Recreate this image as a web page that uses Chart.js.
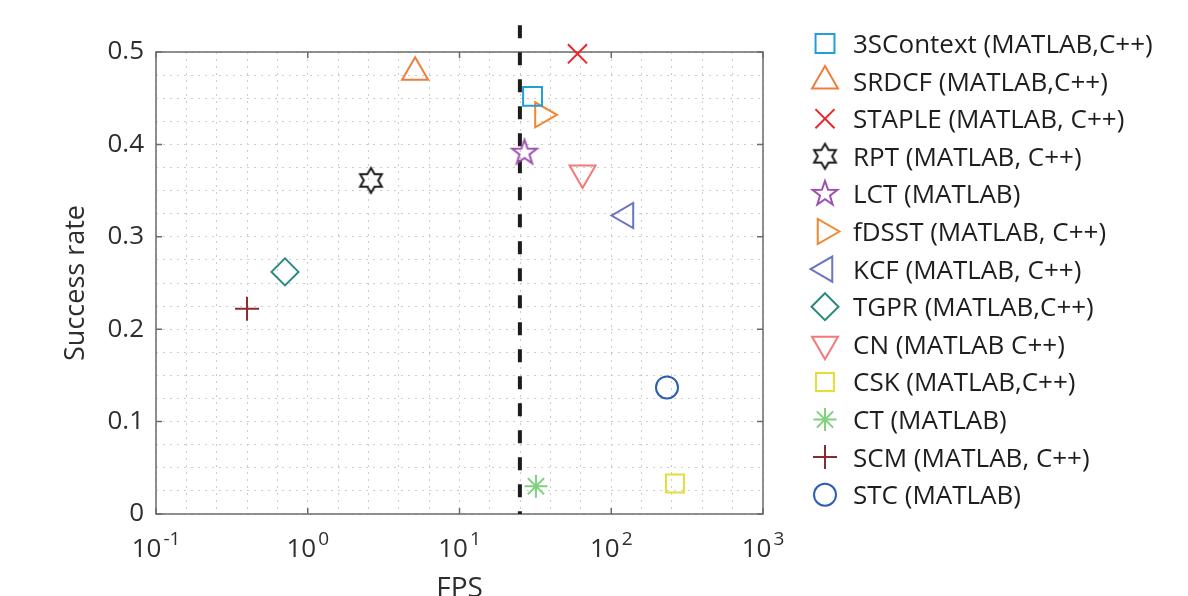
<!DOCTYPE html>
<html>
<head>
<meta charset="utf-8">
<script src="https://cdn.jsdelivr.net/npm/chart.js@4.4.1/dist/chart.umd.min.js"></script>
<style>
    html, body { margin: 0; padding: 0; background: #fff; }
    #wrap { width: 1188px; height: 596px; position: relative; }
</style>
</head>
<body>
<div id="wrap"><canvas id="trackerChart"></canvas></div>
<script>
// Success rate vs. speed (FPS, log scale) for 13 trackers,
// with a dashed real-time threshold and a side legend.

const trackerNames = [
    '3SContext (MATLAB,C++)', 'SRDCF (MATLAB,C++)', 'STAPLE (MATLAB, C++)', 'RPT (MATLAB, C++)',
    'LCT (MATLAB)', 'fDSST (MATLAB, C++)', 'KCF (MATLAB, C++)', 'TGPR (MATLAB,C++)',
    'CN (MATLAB C++)', 'CSK (MATLAB,C++)', 'CT (MATLAB)', 'SCM (MATLAB, C++)', 'STC (MATLAB)'
];
const fpsValues = [30.3, 5.1, 59.9, 2.61, 26.8, 35.2, 125, 0.708, 64.7, 263, 31.9, 0.398, 233];
const successRates = [0.452, 0.478, 0.498, 0.361, 0.391, 0.432, 0.323, 0.262, 0.369, 0.033, 0.030, 0.222, 0.137];
const markerColors = [
    '#1f9fdb', '#ef7d3d', '#e8262d', '#1a1a1a', '#9d4fad', '#f2872f', '#6a75bf',
    '#2a8a7e', '#f07a7a', '#e4de38', '#7fd07f', '#8b2a30', '#2b5db3'
];
const markerShapes = ['rect', 'triangle', 'crossRot', 'hexagram', 'pentagram', 'triangle', 'triangle',
    'rectRot', 'triangle', 'rect', 'star', 'cross', 'circle'];
const markerRotations = [0, 0, 0, 0, 0, 90, 270, 0, 180, 0, 0, 0, 0];
const markerSizes = [13.4, 15, 13.5, 12.5, 13, 14.5, 14.5, 13.5, 15, 12.7, 11.5, 12, 11];

const realtimeFps = 25;
const realtimeSpan = [0.529, 0];

const xDecades = [-1, 0, 1, 2, 3];
const yTickLabels = ['0', '0.1', '0.2', '0.3', '0.4', '0.5'];

const FONT = '"Open Sans", "Noto Sans", sans-serif';
const BOX_COLOR = '#6b6b6b';
const TEXT_COLOR = '#2e2e2e';

function starImage(points, outer, inner, color) {
    const size = Math.ceil(outer * 2 + 8);
    const c = document.createElement('canvas');
    c.width = size;
    c.height = size;
    const g = c.getContext('2d');
    g.strokeStyle = color;
    g.lineWidth = 2;
    g.beginPath();
    for (let i = 0; i < points * 2; i++) {
        const r = i % 2 === 0 ? outer : inner;
        const a = i * Math.PI / points;
        const px = size / 2 + r * Math.sin(a);
        const py = size / 2 - r * Math.cos(a);
        if (i === 0) g.moveTo(px, py); else g.lineTo(px, py);
    }
    g.closePath();
    g.stroke();
    return c;
}

function markerStyle(i) {
    const shape = markerShapes[i];
    if (shape === 'hexagram') return starImage(6, markerSizes[i], markerSizes[i] / Math.sqrt(3), markerColors[i]);
    if (shape === 'pentagram') return starImage(5, markerSizes[i], markerSizes[i] * 0.4, markerColors[i]);
    return shape;
}

const pointDatasets = trackerNames.map((name, i) => ({
    label: name,
    data: [{ x: fpsValues[i], y: successRates[i] }],
    pointStyle: markerStyle(i),
    pointRotation: markerRotations[i],
    pointRadius: markerSizes[i],
    pointHoverRadius: markerSizes[i],
    pointBorderColor: markerColors[i],
    pointBackgroundColor: 'rgba(0,0,0,0)',
    pointBorderWidth: 2,
    clip: false,
    order: 1
}));

const thresholdDataset = {
    type: 'line',
    label: '',
    data: [{ x: realtimeFps, y: realtimeSpan[0] }, { x: realtimeFps, y: realtimeSpan[1] }],
    borderColor: '#1c1c1c',
    borderWidth: 4,
    borderDash: [13, 14],
    pointRadius: 0,
    clip: false,
    order: 2
};

// Box round the plot, inward tick marks, and 10^n labels with raised exponents.
const axisBox = {
    id: 'axisBox',
    beforeDatasetsDraw(chart) {
        const { ctx, chartArea: a, scales: { x, y } } = chart;
        ctx.save();
        ctx.strokeStyle = BOX_COLOR;
        ctx.lineWidth = 1.5;
        ctx.strokeRect(a.left, a.top, a.width, a.height);
        ctx.beginPath();
        xDecades.forEach(e => {
            const px = x.getPixelForValue(Math.pow(10, e));
            ctx.moveTo(px, a.bottom); ctx.lineTo(px, a.bottom - 6);
            ctx.moveTo(px, a.top); ctx.lineTo(px, a.top + 6);
        });
        yTickLabels.forEach(t => {
            const py = y.getPixelForValue(Number(t));
            ctx.moveTo(a.left, py); ctx.lineTo(a.left + 6, py);
            ctx.moveTo(a.right, py); ctx.lineTo(a.right - 6, py);
        });
        ctx.stroke();
        ctx.restore();
    },
    afterDraw(chart) {
        const { ctx, chartArea: a, scales: { x } } = chart;
        ctx.save();
        ctx.fillStyle = TEXT_COLOR;
        ctx.textBaseline = 'alphabetic';
        ctx.textAlign = 'left';
        xDecades.forEach(e => {
            const px = x.getPixelForValue(Math.pow(10, e));
            const exp = String(e);
            ctx.font = `26px ${FONT}`;
            const wBase = ctx.measureText('10').width;
            ctx.font = `19px ${FONT}`;
            const wExp = ctx.measureText(exp).width;
            const left = px - (wBase + wExp + 2) / 2;
            ctx.font = `26px ${FONT}`;
            ctx.fillText('10', left, a.bottom + 43);
            ctx.font = `19px ${FONT}`;
            ctx.fillText(exp, left + wBase + 2, a.bottom + 31);
        });
        ctx.restore();
    }
};

// Legend drawn at the side, one row per tracker.
const sideLegend = {
    id: 'sideLegend',
    afterDraw(chart) {
        const { ctx } = chart;
        const drawPoint = Chart.helpers && Chart.helpers.drawPoint;
        ctx.save();
        chart.data.datasets.forEach((ds, i) => {
            if (!ds.label) return;
            const baseline = 53 + i * 37.6;
            const cy = baseline - 9.5;
            if (drawPoint) {
                ctx.strokeStyle = ds.pointBorderColor;
                ctx.fillStyle = 'rgba(0,0,0,0)';
                ctx.lineWidth = ds.pointBorderWidth;
                ctx.setLineDash([]);
                drawPoint(ctx, {
                    pointStyle: ds.pointStyle,
                    rotation: ds.pointRotation,
                    radius: ds.pointRadius,
                    borderWidth: ds.pointBorderWidth
                }, 825, cy);
            }
            ctx.fillStyle = '#1e1e1e';
            ctx.font = `26px ${FONT}`;
            ctx.textBaseline = 'alphabetic';
            ctx.textAlign = 'left';
            ctx.fillText(ds.label, 853, baseline);
        });
        ctx.restore();
    }
};

new Chart(document.getElementById('trackerChart'), {
    type: 'scatter',
    data: { datasets: [...pointDatasets, thresholdDataset] },
    options: {
        responsive: true,
        maintainAspectRatio: false,
        animation: false,
        layout: { padding: { left: 0, right: 425, top: 52, bottom: 0 } },
        plugins: { legend: { display: false }, tooltip: { enabled: false } },
        scales: {
            x: {
                type: 'logarithmic',
                min: 0.1,
                max: 1000,
                afterBuildTicks: (scale) => {
                    const ticks = [];
                    for (let k = -5; k <= 15; k++) ticks.push({ value: Math.pow(10, k / 5) });
                    scale.ticks = ticks;
                },
                afterFit: (scale) => { scale.height = 82; },
                ticks: { display: false, autoSkip: false },
                grid: { color: '#cccccc', lineWidth: 1, drawTicks: false },
                border: { display: false, dash: [2, 5] },
                title: {
                    display: true,
                    text: 'FPS',
                    color: TEXT_COLOR,
                    font: { family: FONT, size: 28 },
                    padding: { top: 0, bottom: -10 }
                }
            },
            y: {
                min: 0,
                max: 0.5,
                afterFit: (scale) => { scale.width = 156; },
                ticks: {
                    stepSize: 0.025,
                    autoSkip: false,
                    padding: 12,
                    color: TEXT_COLOR,
                    font: { family: FONT, size: 26 },
                    callback: (v) => {
                        const k = Math.round(v * 10);
                        return Math.abs(v * 10 - k) < 1e-6 ? yTickLabels[k] : '';
                    }
                },
                grid: { color: '#cccccc', lineWidth: 1, drawTicks: false },
                border: { display: false, dash: [2, 5] },
                title: {
                    display: true,
                    text: 'Success rate',
                    color: TEXT_COLOR,
                    font: { family: FONT, size: 27 },
                    padding: { top: 60, bottom: 0 }
                }
            }
        }
    },
    plugins: [axisBox, sideLegend]
});
</script>
</body>
</html>
